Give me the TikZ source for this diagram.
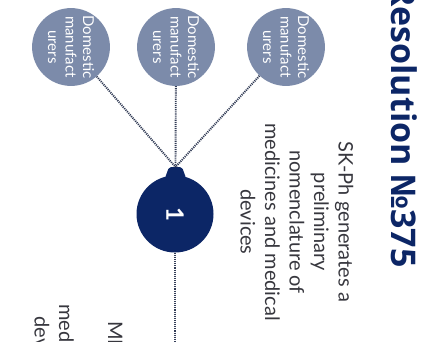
\documentclass[tikz,border=0pt]{standalone}
\usepackage{fontspec}
\setmainfont{Lato}
\newfontfamily\titlefont{Open Sans}
\usetikzlibrary{
  arrows.meta,
  positioning,
  shapes.geometric
}
\definecolor{navy}{RGB}{12,38,102}
\definecolor{slate}{RGB}{124,139,170}
\definecolor{textgray}{RGB}{55,55,62}
\definecolor{dotgray}{RGB}{50,60,86}

\begin{document}
\begin{tikzpicture}[x=1pt, y=-1pt,
    maker/.style={circle, fill=slate, minimum size=77pt, inner sep=0pt, rotate=-90,
      text=white, align=center, font=\fontsize{15}{17.5}\selectfont},
    stepnode/.style={circle, fill=navy, minimum size=77pt, inner sep=0pt, rotate=-90,
      text=white, font=\fontsize{24}{28}\selectfont\bfseries},
    desc/.style={rotate=-90, inner sep=0pt, text=textgray, align=center,
      font=\fontsize{20}{24.5}\selectfont},
    title/.style={rotate=-90, inner sep=0pt, text=navy, font=\titlefont\bfseries\fontsize{34}{40}\selectfont},
    link/.style={draw=dotgray, line width=1.9pt, dash pattern=on 1.1pt off 1pt}
  ]
  \useasboundingbox (0,0) rectangle (428,341);
  \clip (0,0) rectangle (428,341);

  % manufacturers
  \node[maker] (dom1) at (71,47) {Domestic\\manufact\\urers};
  \node[maker] (dom2) at (176,47) {Domestic\\manufact\\urers};
  \node[maker] (dom3) at (286,47) {Domestic\\manufact\\urers};

  % step 1 with its cap
  \node[stepnode] (step1) at (175,214) {1};
  \fill[navy, rounded corners=2pt] (165,178) -- (169,167) -- (182,167) -- (186,178) -- cycle;
  \coordinate (knob) at (175.5,167);
  \coordinate (next) at (175,350);

  \draw[link] (dom1) -- (knob);
  \draw[link] (dom2) -- (knob);
  \draw[link] (dom3) -- (knob);
  \draw[link] (step1) -- (next);

  % texts
  \node[title, anchor=base east] (head) at (391,268) {Resolution №375};
  \node[desc] (task1) at (297,222) {SK-Ph generates a\\preliminary\\nomenclature of\\medicines and medical\\devices};
  \node[desc] (task2) at (77,403) {MIID approves the\\final list of\\medicines and medical\\devices to purchase};
\end{tikzpicture}
\end{document}
